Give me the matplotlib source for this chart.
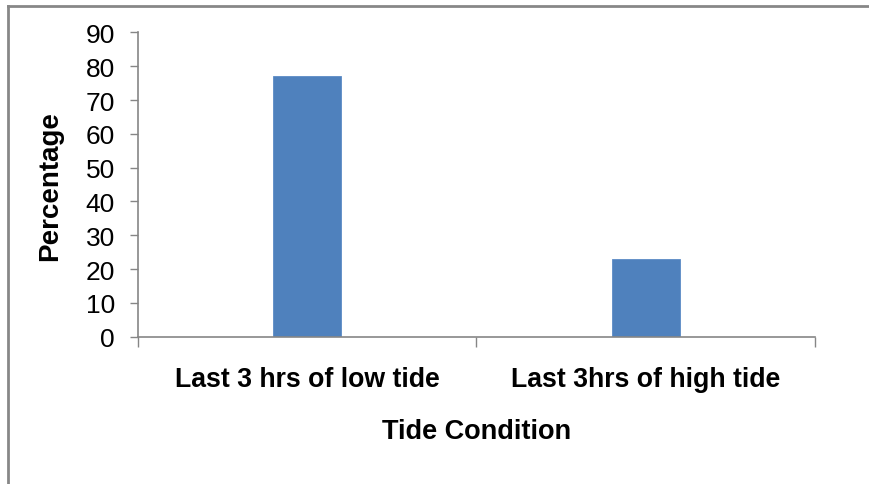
import numpy as np
import matplotlib.pyplot as plt
from matplotlib.lines import Line2D

plt.rcParams['font.family'] = ['Liberation Sans', 'DejaVu Sans']

categories = ['Last 3 hrs of low tide', 'Last 3hrs of high tide']
percent = [77, 23]
yticks = [0, 10, 20, 30, 40, 50, 60, 70, 80, 90]

fig = plt.figure(figsize=(8.7, 4.85), dpi=100)
ax = fig.add_axes([0.1586, 0.3037, 0.7782, 0.6273])

x = np.arange(len(categories))
ax.bar(x, percent, width=0.2, color='#4F81BD', edgecolor='#5B8BC6', linewidth=0.6)

ax.set_xlim(-0.5, 1.5)
ax.set_ylim(0, 90)
ax.set_yticks(yticks)
ax.tick_params(axis='y', labelsize=19, length=6, width=1, color='#868686', pad=10.5)

# category boundary ticks, labels on minor ticks
ax.set_xticks([-0.5, 0.5, 1.5])
ax.set_xticklabels([])
ax.set_xticks(x, minor=True)
ax.set_xticklabels(categories, minor=True, fontsize=19.2, fontweight='bold')
ax.tick_params(axis='x', which='major', length=7, width=1, color='#868686')
ax.tick_params(axis='x', which='minor', length=0, pad=21)

for s in ['top', 'right']:
    ax.spines[s].set_visible(False)
for s in ['left', 'bottom']:
    ax.spines[s].set_color('#868686')
    ax.spines[s].set_linewidth(1.2)

ax.set_ylabel('Percentage', fontsize=20, fontweight='bold', labelpad=16)
ax.set_xlabel('Tide Condition', fontsize=19.5, fontweight='bold', labelpad=18.5)

# outer chart frame (cut off at right and bottom)
fig.add_artist(Line2D([8.5 / 870, 1], [1 - 7 / 485, 1 - 7 / 485], color='#878787', lw=2, transform=fig.transFigure))
fig.add_artist(Line2D([8.5 / 870, 8.5 / 870], [0, 1 - 7 / 485], color='#878787', lw=2, transform=fig.transFigure))

fig.savefig('out.png', dpi=100)
